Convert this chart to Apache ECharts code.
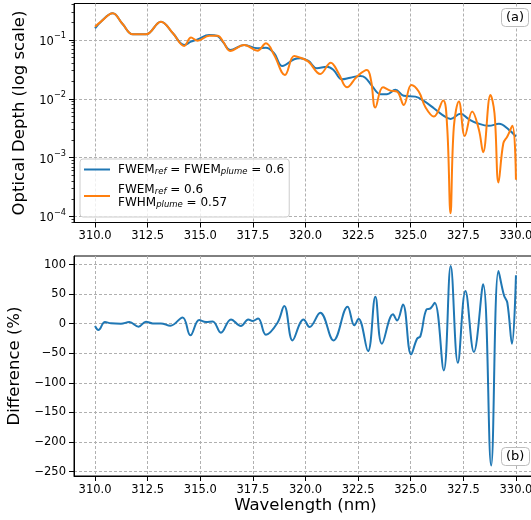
<!DOCTYPE html>
<html>
<head>
<meta charset="utf-8">
<script src="https://cdn.jsdelivr.net/npm/echarts@6/dist/echarts.min.js"></script>
<style>
  html, body { margin: 0; padding: 0; background: #fff; }
  #chart { width: 531px; height: 520px; }
</style>
</head>
<body>
<div id="chart"></div>
<script>
// Reference optical depth, FWEM_ref = FWEM_plume = 0.6
const wlRef = [310.0, 310.28, 310.84, 311.31, 311.79, 312.42, 313.13, 313.70, 314.24, 314.56,
  314.87, 315.43, 315.82, 316.10, 316.42, 317.09, 317.72, 318.12, 318.51, 318.90,
  319.46, 319.75, 320.14, 320.54, 321.02, 321.33, 321.73, 322.13, 322.60, 322.84,
  323.16, 323.56, 323.87, 324.27, 324.67, 325.22, 325.62, 326.10, 326.50, 326.90,
  327.36, 327.76, 328.16, 328.71, 329.19, 329.67, 330.00];
const odRef = [0.158, 0.205, 0.284, 0.187, 0.125, 0.125, 0.205, 0.130, 0.0822, 0.0937,
  0.1026, 0.1216, 0.117, 0.090, 0.0676, 0.0822, 0.0722, 0.0741, 0.0594, 0.0362,
  0.047, 0.0489, 0.0440, 0.0330, 0.0352, 0.0310, 0.0215, 0.0229, 0.0245, 0.0229,
  0.0166, 0.0120, 0.0120, 0.0142, 0.0113, 0.0109, 0.0092, 0.00692, 0.00533, 0.00456,
  0.00555, 0.00450, 0.00385, 0.00347, 0.00375, 0.00297, 0.00229];

// Optical depth with FWEM_ref = 0.6, FWHM_plume = 0.57
const wlPlume = [310.0, 310.28, 310.84, 311.31, 311.79, 312.42, 313.13, 313.70, 314.24, 314.56,
  314.87, 315.43, 315.82, 316.10, 316.42, 317.09, 317.72, 318.12, 318.51, 319.02,
  319.46, 319.75, 320.14, 320.70, 321.20, 321.57, 321.97, 322.44, 322.92, 323.11,
  323.32, 323.68, 324.03, 324.35, 324.67, 325.03, 325.38, 325.70, 326.10, 326.54,
  326.73, 326.89, 327.05, 327.29, 327.57, 327.92, 328.24, 328.44, 328.79, 328.98,
  329.17, 329.40, 329.59, 329.83, 330.00];
const odPlume = [0.168, 0.205, 0.284, 0.187, 0.125, 0.125, 0.205, 0.130, 0.0791, 0.110,
  0.0975, 0.118, 0.1185, 0.092, 0.065, 0.0822, 0.0659, 0.0878, 0.0556, 0.0255,
  0.0535, 0.0500, 0.0429, 0.0265, 0.0412, 0.0272, 0.0157, 0.0238, 0.0310, 0.0209,
  0.0071, 0.0157, 0.0138, 0.0133, 0.00787, 0.0172, 0.0133, 0.00720, 0.00499, 0.00933,
  0.00338, 0.000114, 0.00338, 0.00897, 0.00234, 0.00607, 0.00297, 0.00124, 0.0116, 0.00569,
  0.000378, 0.00176, 0.00229, 0.00347, 0.00042];

// Relative difference between the two optical depths (%)
const wlDiff = [310.00, 310.16, 310.47, 310.76, 311.23, 311.63, 312.07, 312.42, 312.74, 313.13,
  313.58, 314.16, 314.53, 314.95, 315.27, 315.59, 315.98, 316.46, 316.93, 317.28,
  317.48, 317.75, 318.12, 318.67, 318.99, 319.38, 319.75, 319.90, 320.19, 320.70,
  321.33, 322.00, 322.32, 322.52, 322.97, 323.32, 323.63, 324.16, 324.35, 324.63,
  325.02, 325.30, 325.46, 325.75, 325.94, 326.14, 326.57, 326.90, 327.24, 327.60,
  328.00, 328.44, 328.82, 329.17, 329.43, 329.59, 329.81, 330.00];
const diffPct = [-3.9, -10.7, 2.8, 0.6, 0, 2.8, -5, 3.4, 0.5, 0.5,
  -3.4, 10.7, -19.7, 6.2, 2.8, 3.9, -15.2, 7.3, -3.9, 7.3,
  4.5, 9, -18.6, 1.7, 29.9, -28.2, 1.7, 7.3, -5.6, 18.6,
  -28.2, 28.8, -2.8, 8.5, -46.3, 45.7, -33.9, 15.8, 5.6, 32.7,
  -51.9, -25.4, -20.9, 24.2, 25.9, 35.5, -78.9, 97.5, -66, 55.3,
  -48, 66.6, -239.8, 89.1, 48, 35.5, -33.9, 81.8];

// Tick values
const xTicks = [310, 312.5, 315, 317.5, 320, 322.5, 325, 327.5, 330];
const odTicks = [1e-4, 1e-3, 1e-2, 1e-1];
const odMinorTicks = [8e-5, 9e-5,
  2e-4, 3e-4, 4e-4, 5e-4, 6e-4, 7e-4, 8e-4, 9e-4,
  2e-3, 3e-3, 4e-3, 5e-3, 6e-3, 7e-3, 8e-3, 9e-3,
  2e-2, 3e-2, 4e-2, 5e-2, 6e-2, 7e-2, 8e-2, 9e-2,
  2e-1, 3e-1, 4e-1];
const diffTicks = [-250, -200, -150, -100, -50, 0, 50, 100];

const NAME_REF = 'ref';
const NAME_PLUME = 'plume';
const legendText = {
  [NAME_REF]: '{t|FWEM}{s|ref}{t| = FWEM}{s|plume}{t| = 0.6}',
  [NAME_PLUME]: '{t|FWEM}{s|ref}{t| = 0.6}\n{t|FWHM}{s|plume}{t| = 0.57}'
};

const FONT = 'DejaVu Sans';
const BLUE = '#1f77b4';
const ORANGE = '#ff7f0e';

const pairs = (xs, ys) => xs.map((x, i) => [x, ys[i]]);
const minusFmt = v => (v < 0 ? '\u2212' + Math.abs(v) : String(v));

const gridLine = { show: true, lineStyle: { color: '#b0b0b0', width: 1, type: [3, 2] } };
const tickLabelStyle = { color: '#000', fontSize: 11.5, fontFamily: FONT, margin: 8 };
const nameStyle = { color: '#000', fontSize: 16.5, fontFamily: FONT };

function makeGrid(top, height) {
  return {
    left: 74, top: top, width: 463, height: height,
    show: true, borderColor: '#000', borderWidth: 1,
    backgroundColor: 'transparent', containLabel: false, outerBoundsMode: 'none'
  };
}

function makeX(gridIndex, name) {
  return {
    type: 'value', gridIndex: gridIndex, min: 309, max: 331,
    axisLine: { show: true, onZero: false, lineStyle: { color: '#000', width: 1 } },
    axisTick: { show: true, inside: false, length: 5, customValues: xTicks, lineStyle: { color: '#000' } },
    axisLabel: Object.assign({ show: true, customValues: xTicks, formatter: v => v.toFixed(1) }, tickLabelStyle),
    splitLine: gridLine,
    name: name, nameLocation: 'middle', nameGap: 21, nameTextStyle: nameStyle
  };
}

const chart = echarts.init(document.getElementById('chart'), null, { renderer: 'canvas' });

chart.setOption({
  animation: false,
  backgroundColor: '#fff',
  grid: [makeGrid(3.5, 219), makeGrid(256, 220)],
  xAxis: [makeX(0, ''), makeX(1, 'Wavelength (nm)')],
  yAxis: [
    {
      type: 'log', logBase: 10, gridIndex: 0, position: 'left', min: 7.9e-5, max: 0.417,
      axisLine: { show: true, lineStyle: { color: '#000', width: 1 } },
      axisTick: { show: true, inside: false, length: 5, customValues: odTicks, lineStyle: { color: '#000' } },
      axisLabel: Object.assign({
        show: true, customValues: odTicks, lineHeight: 16,
        formatter: v => '{b|10}{s|\u2212' + Math.round(-Math.log10(v)) + '}',
        rich: {
          b: { fontSize: 11.5, fontFamily: FONT, color: '#000', verticalAlign: 'bottom' },
          s: { fontSize: 8.2, fontFamily: FONT, color: '#000', verticalAlign: 'top' }
        }
      }, tickLabelStyle),
      splitLine: gridLine,
      name: 'Optical Depth (log scale)', nameLocation: 'middle', nameGap: 41, nameTextStyle: nameStyle
    },
    {
      // minor ticks of the log axis
      type: 'log', logBase: 10, gridIndex: 0, position: 'left', min: 7.9e-5, max: 0.417,
      axisLine: { show: false },
      axisTick: { show: true, inside: false, length: 2.5, customValues: odMinorTicks, lineStyle: { color: '#000', width: 0.8 } },
      axisLabel: { show: false },
      splitLine: { show: false }
    },
    {
      type: 'value', gridIndex: 1, position: 'left', min: -257.5, max: 114.5,
      axisLine: { show: true, onZero: false, lineStyle: { color: '#000', width: 1 } },
      axisTick: { show: true, inside: false, length: 5, customValues: diffTicks, lineStyle: { color: '#000' } },
      axisLabel: Object.assign({ show: true, customValues: diffTicks, formatter: minusFmt }, tickLabelStyle),
      splitLine: gridLine,
      name: 'Difference (%)', nameLocation: 'middle', nameGap: 45, nameTextStyle: nameStyle
    }
  ],
  legend: {
    show: true, orient: 'vertical', left: 80, top: 159,
    padding: [4, 5, 8, 4], itemGap: 7, itemWidth: 26, itemHeight: 2, icon: 'rect',
    backgroundColor: 'rgba(255,255,255,0.8)', borderColor: '#cccccc', borderWidth: 1, borderRadius: 3,
    data: [{ name: NAME_REF }, { name: NAME_PLUME }],
    formatter: n => legendText[n],
    textStyle: {
      fontFamily: FONT, fontSize: 12, color: '#000', lineHeight: 13, padding: [0, 0, 0, 3],
      rich: {
        t: { fontFamily: FONT, fontSize: 12, color: '#000' },
        s: { fontFamily: FONT, fontSize: 8.5, fontStyle: 'italic', color: '#000', verticalAlign: 'bottom' }
      }
    }
  },
  title: [
    {
      text: '(a)', left: 501, top: 8, padding: [3, 5, 3, 5],
      backgroundColor: '#fff', borderColor: '#bdbdbd', borderWidth: 1, borderRadius: 4,
      textStyle: { fontSize: 13, fontWeight: 'normal', fontFamily: FONT, color: '#000' }
    },
    {
      text: '(b)', left: 501, top: 447, padding: [3, 5, 3, 5],
      backgroundColor: '#fff', borderColor: '#bdbdbd', borderWidth: 1, borderRadius: 4,
      textStyle: { fontSize: 13, fontWeight: 'normal', fontFamily: FONT, color: '#000' }
    }
  ],
  series: [
    {
      name: NAME_REF, type: 'line', xAxisIndex: 0, yAxisIndex: 0,
      data: pairs(wlRef, odRef), smooth: 0.4, showSymbol: false, symbol: 'none',
      lineStyle: { color: BLUE, width: 2 }, itemStyle: { color: BLUE }, z: 3
    },
    {
      name: NAME_PLUME, type: 'line', xAxisIndex: 0, yAxisIndex: 0,
      data: pairs(wlPlume, odPlume), smooth: 0.4, showSymbol: false, symbol: 'none',
      lineStyle: { color: ORANGE, width: 2 }, itemStyle: { color: ORANGE }, z: 4
    },
    {
      name: 'diff', type: 'line', xAxisIndex: 1, yAxisIndex: 2,
      data: pairs(wlDiff, diffPct), smooth: 0.4, showSymbol: false, symbol: 'none',
      lineStyle: { color: BLUE, width: 2 }, itemStyle: { color: BLUE }, z: 3
    }
  ]
});
</script>
</body>
</html>
